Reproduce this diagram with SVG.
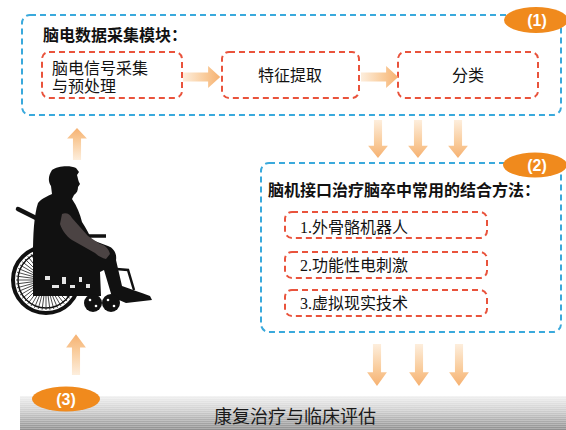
<svg xmlns="http://www.w3.org/2000/svg" xmlns:xlink="http://www.w3.org/1999/xlink" width="566" height="430" viewBox="0 0 566 430">
  <style>
    .module { fill: none; stroke: #3aa9dc; stroke-width: 2; stroke-dasharray: 6 4; }
    .step { fill: #ffffff; stroke: #e9533c; stroke-width: 2; stroke-dasharray: 6 4; }
    .title { font-family: "Noto Sans CJK SC", sans-serif; font-size: 16px; font-weight: bold; fill: #111; }
    .label { font-family: "Liberation Serif", "Noto Sans CJK SC", serif; font-size: 16px; fill: #111; }
    .tag { fill: #f08a1d; }
    .tagtext { font-family: "Liberation Sans", "Noto Sans CJK SC", sans-serif; font-size: 16px; font-weight: bold; fill: #ffffff; text-anchor: middle; }
    .frame { fill: none; stroke: #111; }
    .sil { fill: #111; }
  </style>
  <defs>
    <linearGradient id="flowGrad" gradientUnits="userSpaceOnUse" x1="0" y1="0" x2="40" y2="0">
      <stop offset="0" stop-color="#fdeedd"/>
      <stop offset="0.6" stop-color="#f9cb9a"/>
      <stop offset="1" stop-color="#f6b171"/>
    </linearGradient>
    <!-- block arrow pointing along +x, tail at origin, length 40 -->
    <path id="flow" d="M0,-4.5 H27 V-11 L40,0 L27,11 V4.5 H0 Z" fill="url(#flowGrad)"/>
    <linearGradient id="barGrad" x1="0" y1="0" x2="0" y2="1">
      <stop offset="0" stop-color="#f0f0f0"/>
      <stop offset="0.45" stop-color="#cdcdcd"/>
      <stop offset="1" stop-color="#8e8e8e"/>
    </linearGradient>
    <pattern id="stripes" width="4" height="2" patternUnits="userSpaceOnUse">
      <rect width="4" height="1" fill="#ffffff" fill-opacity="0.25"/>
    </pattern>
    <!-- wheel spokes around the origin -->
    <path id="spokes" d="M30,0 L-30,0 M29,7.8 L-29,-7.8 M26,15 L-26,-15 M21.2,21.2 L-21.2,-21.2 M15,26 L-15,-26 M7.8,29 L-7.8,-29 M0,30 L0,-30 M-7.8,29 L7.8,-29 M-15,26 L15,-26 M-21.2,21.2 L21.2,-21.2 M-26,15 L26,-15 M-29,7.8 L29,-7.8" stroke="#222" stroke-width="0.8" fill="none"/>
  </defs>

  <rect width="566" height="430" fill="#ffffff"/>

  <!-- (1) EEG acquisition module -->
  <g id="module-eeg">
    <rect class="module" x="22" y="15" width="539" height="100" rx="8"/>
    <text class="title" x="43" y="41">脑电数据采集模块：</text>
    <ellipse class="tag" cx="536" cy="20" rx="32" ry="13"/>
    <text class="tagtext" x="537" y="26">(1)</text>
  </g>
  <g id="node-acquire">
    <rect class="step" x="42" y="52" width="140" height="46" rx="7"/>
    <text class="label" x="52" y="74">脑电信号采集</text>
    <text class="label" x="52" y="92">与预处理</text>
  </g>
  <g id="node-feature">
    <rect class="step" x="222" y="52" width="137" height="46" rx="7"/>
    <text class="label" x="290" y="81" text-anchor="middle">特征提取</text>
  </g>
  <g id="node-classify">
    <rect class="step" x="398" y="52" width="140" height="46" rx="7"/>
    <text class="label" x="468" y="81" text-anchor="middle">分类</text>
  </g>

  <!-- (2) combined BCI therapy methods -->
  <g id="module-methods">
    <rect class="module" x="261" y="163" width="300" height="169" rx="8"/>
    <ellipse class="tag" cx="535" cy="165" rx="32" ry="12.5"/>
    <text class="tagtext" x="537" y="171">(2)</text>
    <text class="title" x="268" y="196">脑机接口治疗脑卒中常用的结合方法：</text>
  </g>
  <g id="node-exoskeleton">
    <rect class="step" x="285" y="212" width="202" height="26" rx="7"/>
    <text class="label" x="300" y="233">1.外骨骼机器人</text>
  </g>
  <g id="node-fes">
    <rect class="step" x="285" y="252" width="202" height="26" rx="7"/>
    <text class="label" x="300" y="271">2.功能性电刺激</text>
  </g>
  <g id="node-vr">
    <rect class="step" x="285" y="290" width="202" height="26" rx="7"/>
    <text class="label" x="300" y="309">3.虚拟现实技术</text>
  </g>

  <!-- (3) rehabilitation and clinical evaluation bar -->
  <g id="node-rehab">
    <rect x="20" y="396" width="546" height="34" fill="url(#barGrad)"/>
    <rect x="20" y="396" width="546" height="34" fill="url(#stripes)"/>
    <text x="295" y="423" text-anchor="middle" font-family="Noto Sans CJK SC, sans-serif" font-size="18" fill="#1a1a1a">康复治疗与临床评估</text>
    <ellipse class="tag" cx="66" cy="399" rx="34" ry="12.5"/>
    <text class="tagtext" x="66" y="405">(3)</text>
  </g>

  <!-- patient in wheelchair -->
  <g id="node-patient">
    <!-- big wheel -->
    <circle class="frame" cx="46" cy="280" r="33" stroke-width="4"/>
    <circle class="frame" cx="46" cy="280" r="28" stroke-width="1.5"/>
    <use href="#spokes" transform="translate(46,280)"/>
    <use href="#spokes" transform="translate(46,280) rotate(7.5)"/>
    <!-- push handle -->
    <path d="M18,209 L36,218" stroke="#111" stroke-width="4.5" stroke-linecap="round"/>
    <!-- footrest frame -->
    <path class="frame" d="M104,268 L128,270 L134,290" stroke-width="2.5"/>
    <!-- body and seat -->
    <path class="sil" d="M52,170 C57,166 70,165 76,168 L79,172 L77,175 C78,178 78,181 80,184 L78,187 C78,190 77,193 74,195 L72,199 C77,206 80,214 82,222 C86,228 89,234 92,240 L108,246 C114,248 117,254 116,260 L122,286 C130,289 140,292 150,296 L152,300 L126,303 L112,297 L104,270 L100,272 L101,296 L33,296 L33,255 C33,235 34,215 38,203 C42,198 48,196 52,194 L51,186 C48,182 48,176 52,170 Z"/>
    <!-- gaps in the seat frame -->
    <g fill="#e6e6e6">
      <rect x="45" y="276" width="5" height="4"/>
      <rect x="52" y="285" width="7" height="3"/>
      <rect x="62" y="277" width="4" height="7"/>
      <rect x="70" y="285" width="5" height="3"/>
      <rect x="79" y="277" width="3" height="5"/>
      <rect x="86" y="284" width="4" height="4"/>
    </g>
    <!-- armrest -->
    <path d="M84,236 L106,236" stroke="#111" stroke-width="3.5"/>
    <!-- arm -->
    <path d="M62,214 C66,212 70,214 72,218 L88,236 L100,244 C105,245 109,249 110,254 L106,259 C102,258 98,256 95,253 L72,240 C66,236 62,230 60,224 Z" fill="#4b4343"/>
    <!-- casters -->
    <circle class="sil" cx="93" cy="303" r="9"/>
    <circle class="sil" cx="111" cy="303" r="9"/>
    <g fill="#ffffff">
      <circle cx="90" cy="300" r="1.3"/>
      <circle cx="96" cy="306" r="1.3"/>
      <circle cx="108" cy="300" r="1.3"/>
      <circle cx="114" cy="306" r="1.3"/>
    </g>
  </g>

  <!-- connectors -->
  <g id="connectors">
    <use href="#flow" transform="translate(183,77) scale(0.93,1)"/>
    <use href="#flow" transform="translate(361,77) scale(0.93,1)"/>
    <use href="#flow" transform="translate(378,120) rotate(90) scale(0.95,0.9)"/>
    <use href="#flow" transform="translate(418,120) rotate(90) scale(0.95,0.9)"/>
    <use href="#flow" transform="translate(458,120) rotate(90) scale(0.95,0.9)"/>
    <use href="#flow" transform="translate(377,344) rotate(90) scale(1.05,0.9)"/>
    <use href="#flow" transform="translate(419,344) rotate(90) scale(1.05,0.9)"/>
    <use href="#flow" transform="translate(459,344) rotate(90) scale(1.05,0.9)"/>
    <use href="#flow" transform="translate(76,375) rotate(-90) scale(1.02,0.9)"/>
    <use href="#flow" transform="translate(77,160) rotate(-90) scale(0.8,0.9)"/>
  </g>
</svg>
